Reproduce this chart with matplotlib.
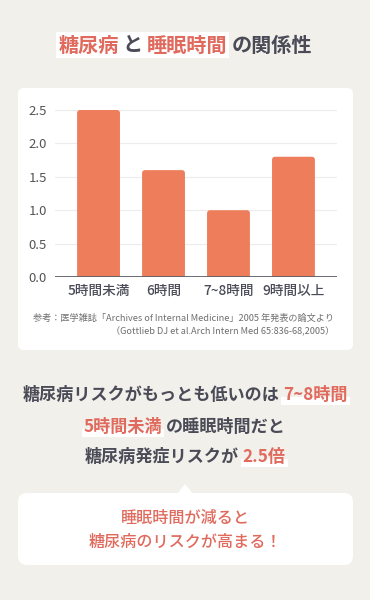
import matplotlib
matplotlib.use("Agg")
import matplotlib.pyplot as plt
from matplotlib.patches import FancyBboxPatch, Rectangle, Polygon

# ---- data ----
categories = ["5時間未満", "6時間", "7~8時間", "9時間以上"]
values = [2.5, 1.6, 1.0, 1.8]
yticks = [0.0, 0.5, 1.0, 1.5, 2.0, 2.5]
ytick_labels = ["0.0", "0.5", "1.0", "1.5", "2.0", "2.5"]
title_parts = [("糖尿病", "accent"), ("と", "dark"), ("睡眠時間", "accent"), ("の関係性", "dark")]
msg_line1 = [("糖尿病リスクがもっとも低いのは", "dark"), ("7~8時間", "accent")]
msg_line2 = [("5時間未満", "accent"), ("の睡眠時間だと", "dark")]
msg_line3 = [("糖尿病発症リスクが", "dark"), ("2.5倍", "accent")]
bubble_lines = ["睡眠時間が減ると", "糖尿病のリスクが高まる！"]
source_lines = ["参考：医学雑誌「Archives of Internal Medicine」2005 年発表の論文より",
                "（Gottlieb DJ et al.Arch Intern Med 65:836-68,2005）"]

FONT = ["Noto Sans CJK JP", "DejaVu Sans"]
plt.rcParams['font.family'] = FONT

BG = "#f1f0eb"
BAR = "#ee7d5c"
ACCENT = "#e06a5d"
DARK = "#4a4b57"
GRAY = "#6f6f6f"
colors = {"accent": ACCENT, "dark": DARK}

W, H = 370, 600
fig = plt.figure(figsize=(W / 100, H / 100), dpi=100)
fig.patch.set_facecolor(BG)

bg = fig.add_axes([0, 0, 1, 1], zorder=0)
bg.set_xlim(0, W)
bg.set_ylim(H, 0)
bg.axis("off")

# white panel
bg.add_patch(FancyBboxPatch((18, 88), 335, 262, boxstyle="round,pad=0,rounding_size=6",
                            fc="white", ec="none", zorder=1))

renderer = fig.canvas.get_renderer()


def draw_line(yc, parts, fontsize, weight, gap, highlight=None, cx=W / 2):
    widths = []
    for s, _ in parts:
        t = bg.text(0, yc, s, fontsize=fontsize, fontweight=weight)
        bb = t.get_window_extent(renderer)
        widths.append(bb.width)
        t.remove()
    total = sum(widths) + gap * (len(parts) - 1)
    x = cx - total / 2
    spans = []
    for (s, c), w in zip(parts, widths):
        bg.text(x, yc, s, fontsize=fontsize, fontweight=weight, color=colors[c],
                ha="left", va="center", zorder=5)
        if c == "accent" and highlight is not None:
            y0, y1 = highlight
            bg.add_patch(Rectangle((x - 2, yc + y0), w + 4, y1 - y0, fc="white", ec="none", zorder=3))
        spans.append((x, x + w))
        x += w + gap
    return spans


# title with white highlight block
title_y = 45
spans = draw_line(title_y, title_parts, 14.5, "bold", 4)
bg.add_patch(Rectangle((spans[0][0] - 2, 32), spans[2][1] - spans[0][0] + 4, 26,
                       fc="white", ec="none", zorder=2))

# message lines
draw_line(395, msg_line1, 12.3, "bold", 4, highlight=(2, 10))
draw_line(427, msg_line2, 12.3, "bold", 4, highlight=(2, 10))
draw_line(457, msg_line3, 12.3, "bold", 4, highlight=(2, 10))

# bubble
bg.add_patch(FancyBboxPatch((18, 493), 335, 72, boxstyle="round,pad=0,rounding_size=9",
                            fc="white", ec="none", zorder=1))
bg.add_patch(Polygon([(177, 494), (185, 484), (193, 494)], closed=True, fc="white", ec="none", zorder=1))
for i, s in enumerate(bubble_lines):
    bg.text(W / 2, 518 + i * 24, s, fontsize=11.6, fontweight="medium", color=ACCENT,
            ha="center", va="center", zorder=5)

# source
for i, s in enumerate(source_lines):
    bg.text(334, 318 + i * 14, s, fontsize=6.6, color=GRAY, ha="right", va="center", zorder=5)

# ---- chart ----
left, right = 55, 337
bottom_px = 277
ymax = 2.6
px_per_unit = 66.8
top_px = bottom_px - ymax * px_per_unit
ax = fig.add_axes([left / W, 1 - bottom_px / H, (right - left) / W, (bottom_px - top_px) / H], zorder=2)
ax.patch.set_alpha(0)
x = list(range(len(categories)))
bars = ax.bar(x, values, width=0.66, color=BAR, zorder=3)
ax.set_xlim(-0.67, 3.67)
ax.set_ylim(0, ymax)

# rounded tops
xunit_px = (right - left) / 4.34
aspect = (1 / px_per_unit) / (1 / xunit_px)
for b in bars:
    b.set_visible(False)
    ax.add_patch(FancyBboxPatch((b.get_x(), -0.2), b.get_width(), b.get_height() + 0.2,
                                boxstyle="round,pad=0,rounding_size=0.05", mutation_aspect=aspect,
                                fc=BAR, ec="none", zorder=3))

for v in yticks[1:]:
    ax.axhline(v, color="#ececec", lw=0.8, zorder=1)
ax.axhline(0, color="#5f6068", lw=1.3, zorder=4)
for s in ax.spines.values():
    s.set_visible(False)
ax.set_yticks(yticks)
ax.set_yticklabels(ytick_labels)
ax.set_xticks(x)
ax.set_xticklabels(categories)
ax.tick_params(axis="y", length=0, pad=6, labelsize=9.5, labelcolor="#555555")
ax.tick_params(axis="x", length=0, pad=5, labelsize=9.8, labelcolor=DARK)
for lab in ax.get_xticklabels():
    lab.set_fontweight("medium")

fig.savefig("out.png", dpi=100, facecolor=BG)
